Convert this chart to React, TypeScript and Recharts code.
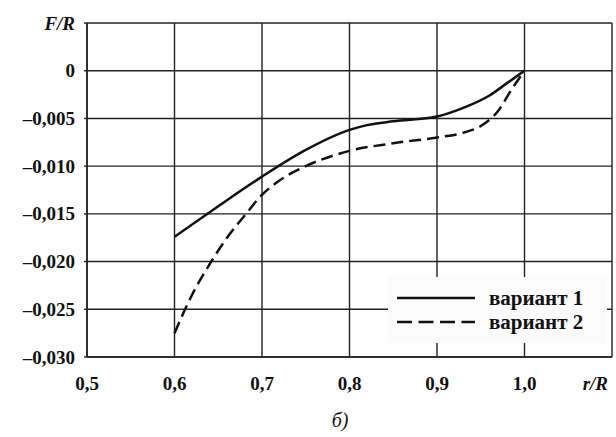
import { LineChart, Line, XAxis, YAxis, CartesianGrid } from 'recharts'

// вариант 1 (сплошная)
const r1 = [0.6, 0.65, 0.7, 0.75, 0.8, 0.82, 0.85, 0.9, 0.93, 0.96, 0.98, 1.0]
const f1 = [-0.0174, -0.0142, -0.0111, -0.0083, -0.0062, -0.0057, -0.0053, -0.0048, -0.0039, -0.0026, -0.0013, 0]

// вариант 2 (пунктир)
const r2 = [0.6, 0.62, 0.64, 0.66, 0.68, 0.7, 0.72, 0.75, 0.8, 0.85, 0.9, 0.93, 0.95, 0.97, 0.985, 1.0]
const f2 = [-0.0275, -0.0235, -0.0203, -0.0175, -0.0152, -0.013, -0.0115, -0.01, -0.0084, -0.0076, -0.007, -0.0065, -0.0058, -0.0042, -0.002, 0]

const xTicks = [0.5, 0.6, 0.7, 0.8, 0.9, 1.0, 1.1]
const yTicks = [-0.03, -0.025, -0.02, -0.015, -0.01, -0.005, 0, 0.005]
const seriesNames = ['вариант 1', 'вариант 2']

const FONT = '"Liberation Serif", "Times New Roman", serif'
const INK = '#111'

const line1 = r1.map((x, i) => ({ x, v: f1[i] }))
const line2 = r2.map((x, i) => ({ x, v: f2[i] }))

const fmt = (v: number, digits: number) =>
  v === 0 ? '0' : v.toFixed(digits).replace('-', '–').replace('.', ',')

function XTick({ x, y, payload }: any) {
  const last = payload.value > 1.05
  return (
    <text
      x={last ? x + 2 : x}
      y={y + 31}
      textAnchor={last ? 'end' : 'middle'}
      fontFamily={FONT}
      fontSize={19}
      fontWeight="bold"
      fontStyle={last ? 'italic' : 'normal'}
      fill={INK}
    >
      {last ? 'r/R' : fmt(payload.value, 1)}
    </text>
  )
}

function YTick({ x, y, payload }: any) {
  const top = payload.value > 0.001
  return (
    <text
      x={x}
      y={y}
      dy={6.5}
      textAnchor="end"
      fontFamily={FONT}
      fontSize={19}
      fontWeight="bold"
      fontStyle={top ? 'italic' : 'normal'}
      fill={INK}
    >
      {top ? 'F/R' : fmt(payload.value, 3)}
    </text>
  )
}

export default function App() {
  return (
    <div style={{ position: 'absolute', left: 0, top: 0, width: 616, height: 437, background: '#fff' }}>
      <LineChart width={616} height={437} margin={{ top: 23, right: 4, left: 0, bottom: 40 }}>
        <CartesianGrid stroke="#222" strokeWidth={1.4} />
        <XAxis
          type="number"
          dataKey="x"
          domain={[0.5, 1.1]}
          ticks={xTicks}
          tick={<XTick />}
          tickSize={0}
          height={40}
          axisLine={{ stroke: '#222', strokeWidth: 1.6 }}
          allowDuplicatedCategory={false}
        />
        <YAxis
          type="number"
          domain={[-0.03, 0.005]}
          ticks={yTicks}
          tick={<YTick />}
          tickSize={3}
          tickMargin={9}
          width={87}
          axisLine={{ stroke: '#222', strokeWidth: 1.6 }}
          tickLine={{ stroke: '#222', strokeWidth: 1.4 }}
        />
        <Line
          data={line1}
          dataKey="v"
          type="monotone"
          stroke={INK}
          strokeWidth={2.5}
          dot={false}
          isAnimationActive={false}
        />
        <Line
          data={line2}
          dataKey="v"
          type="monotone"
          stroke={INK}
          strokeWidth={2.5}
          strokeDasharray="12 6"
          dot={false}
          isAnimationActive={false}
        />
      </LineChart>

      {/* legend box, sits on top of the grid */}
      <div
        style={{
          position: 'absolute',
          left: 388,
          top: 277,
          width: 219,
          height: 66,
          background: '#fbfbfb',
          fontFamily: FONT,
          fontWeight: 'bold',
          fontSize: 21,
          color: INK,
        }}
      >
        {seriesNames.map((name, i) => (
          <div key={name} style={{ position: 'absolute', left: 9, top: 9 + i * 24, height: 24, display: 'flex', alignItems: 'center' }}>
            <svg width={78} height={6} style={{ display: 'block' }}>
              <line
                x1={0}
                x2={78}
                y1={3}
                y2={3}
                stroke={INK}
                strokeWidth={2.5}
                strokeDasharray={i === 1 ? '15 6.5' : undefined}
              />
            </svg>
            <span style={{ marginLeft: 14, lineHeight: '24px' }}>{name}</span>
          </div>
        ))}
      </div>

      <div
        style={{
          position: 'absolute',
          left: 0,
          width: 680,
          top: 409,
          textAlign: 'center',
          fontFamily: FONT,
          fontStyle: 'italic',
          fontSize: 20,
          color: INK,
        }}
      >
        б)
      </div>
    </div>
  )
}
